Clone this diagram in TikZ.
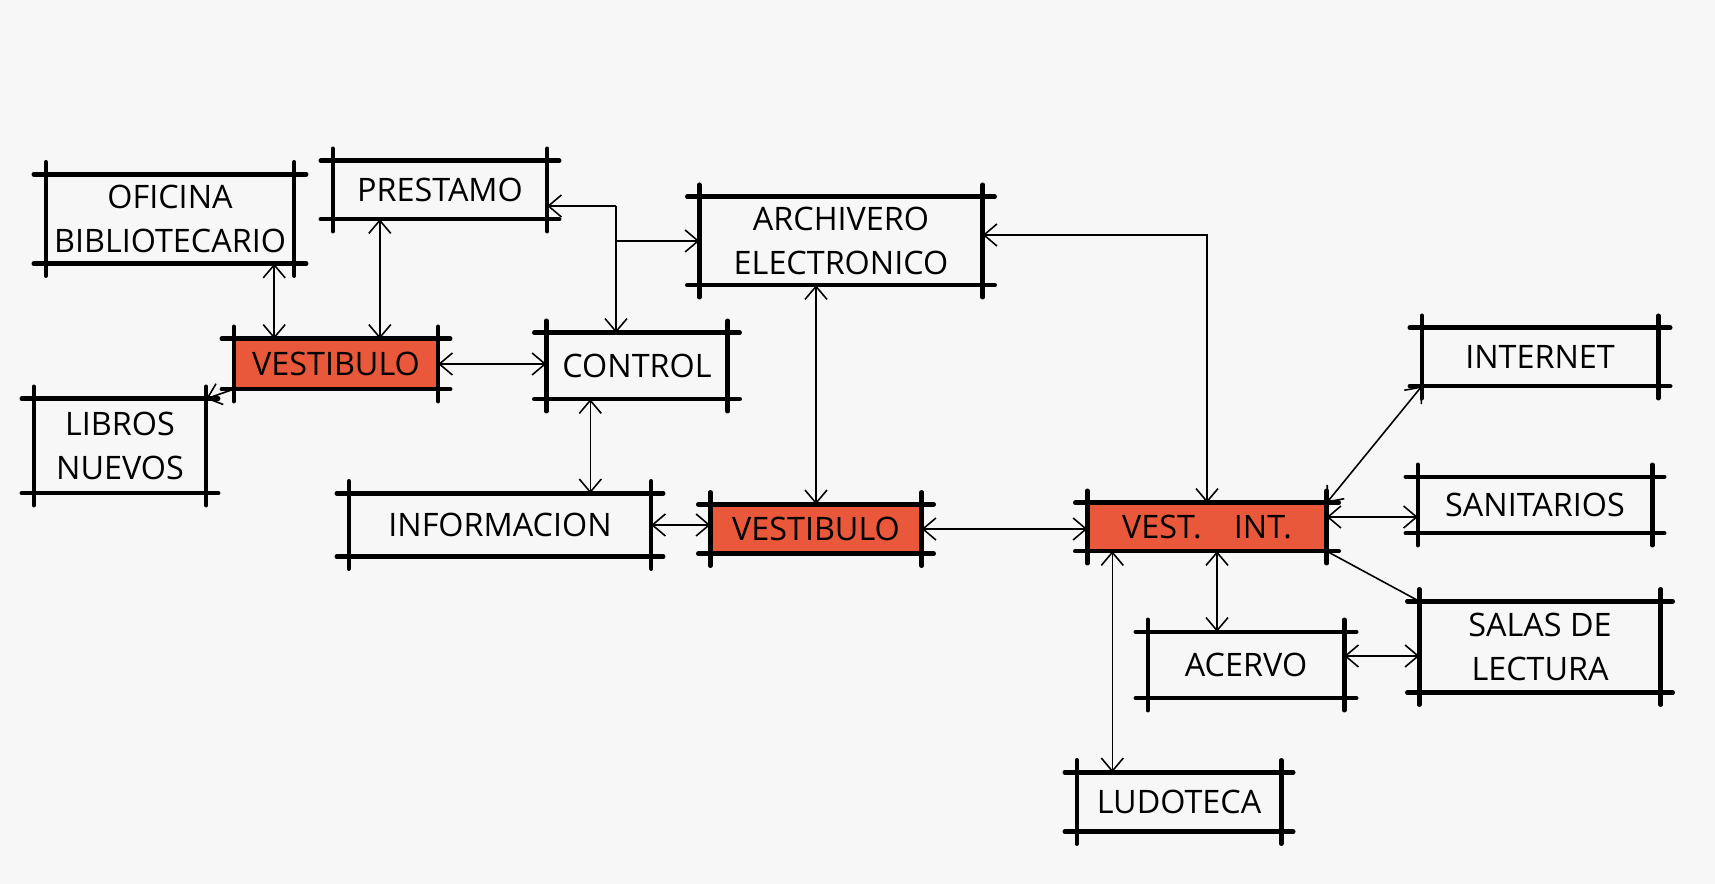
\documentclass[tikz,border=0pt]{standalone}
\usepackage{fontspec}
\setmainfont{Open Sans}
\usepackage{tikz}
\usetikzlibrary{arrows.meta, calc}

\definecolor{paper}{RGB}{247,247,247}
\definecolor{marker}{RGB}{233,88,58}

\tikzset{
    room/.style={inner sep=0pt, align=center, font=\fontsize{9.2}{12.5}\selectfont},
    hall/.style={room, fill=marker},
    frame/.style={line width=1.3pt, line cap=round},
    link/.style={line width=0.45pt, >={Straight Barb[length=1.3mm, width=2.2mm]}}
}

\begin{document}
\begin{tikzpicture}
    % Paper (1 px of the sketch = 0.01 cm)
    \fill[paper] (0,0) rectangle (17.15, 8.84);
    \useasboundingbox (0,0) rectangle (17.15, 8.84);

    % Rooms
    \node[room, minimum width=2.47cm, minimum height=0.88cm] (ofi) at (1.70, 6.65) {OFICINA\\BIBLIOTECARIO};
    \node[room, minimum width=2.13cm, minimum height=0.57cm] (pre) at (4.40, 6.94) {PRESTAMO};
    \node[room, minimum width=2.82cm, minimum height=0.87cm] (arch) at (8.41, 6.43) {ARCHIVERO\\ELECTRONICO};
    \node[hall, minimum width=2.03cm, minimum height=0.49cm] (vestL) at (3.36, 5.20) {VESTIBULO};
    \node[room, minimum width=1.80cm, minimum height=0.65cm] (control) at (6.37, 5.18) {CONTROL};
    \node[room, minimum width=1.71cm, minimum height=0.93cm] (libros) at (1.20, 4.38) {LIBROS\\NUEVOS};
    \node[room, minimum width=3.01cm, minimum height=0.62cm] (info) at (5.00, 3.59) {INFORMACION};
    \node[hall, minimum width=2.10cm, minimum height=0.48cm] (vestC) at (8.16, 3.55) {VESTIBULO};
    \node[hall, minimum width=2.38cm, minimum height=0.47cm] (vestInt) at (12.07, 3.57) {VEST.\quad INT.};
    \node[room, minimum width=2.35cm, minimum height=0.57cm] (internet) at (15.40, 5.27) {INTERNET};
    \node[room, minimum width=2.33cm, minimum height=0.55cm] (sanit) at (15.35, 3.79) {SANITARIOS};
    \node[room, minimum width=2.40cm, minimum height=0.90cm] (salas) at (15.40, 2.37) {SALAS DE\\LECTURA};
    \node[room, minimum width=1.95cm, minimum height=0.65cm] (acervo) at (12.46, 2.19) {ACERVO};
    \node[room, minimum width=2.03cm, minimum height=0.58cm] (ludo) at (11.79, 0.82) {LUDOTECA};

    % Sketch frames with crossing corners
    \foreach \n in {ofi, pre, arch, vestL, control, libros, info, vestC, vestInt, internet, sanit, salas, acervo, ludo} {
        \draw[frame] ([xshift=-0.12cm]\n.north west) -- ([xshift=0.12cm]\n.north east);
        \draw[frame] ([xshift=-0.12cm]\n.south west) -- ([xshift=0.12cm]\n.south east);
        \draw[frame] ([yshift=0.12cm]\n.north west) -- ([yshift=-0.12cm]\n.south west);
        \draw[frame] ([yshift=0.12cm]\n.north east) -- ([yshift=-0.12cm]\n.south east);
    }

    % Left vestibule
    \draw[link, <->] ([xshift=-0.20cm]ofi.south east) -- ([xshift=-0.20cm]ofi.south east |- vestL.north);
    \draw[link, <->] ([xshift=0.47cm]pre.south west) -- ([xshift=0.47cm]pre.south west |- vestL.north);
    \draw[link, ->] (vestL.south west) -- (libros.north east);
    \draw[link, <->] (vestL.east) -- (vestL.east -| control.west);

    % Control branch
    \coordinate (jct) at (6.16, 6.78);
    \draw[link, ->] (jct) -- (jct -| pre.east);
    \draw[link, ->] (jct) -- (jct |- control.north);
    \draw[link, ->] (jct |- arch.west) -- (arch.west);
    \draw[link, <->] ([xshift=0.44cm]control.south west) -- ([xshift=0.44cm]control.south west |- info.north);

    % Central vestibule
    \draw[link, <->] (info.east) -- (info.east -| vestC.west);
    \draw[link, <->] (vestC.north) -- (vestC.north |- arch.south);
    \draw[link, <->] (vestC.east) -- (vestC.east -| vestInt.west);

    % Inner vestibule
    \draw[link, <->] ([yshift=0.06cm]arch.east) -| (vestInt.north);
    \draw[link, <->] (vestInt.north east) -- (internet.south west);
    \draw[link, <->] ([yshift=0.10cm]vestInt.east) -- ([yshift=0.10cm]vestInt.east -| sanit.west);
    \draw[link] (vestInt.south east) -- (salas.north west);
    \draw[link, <->] ([xshift=0.10cm]vestInt.south) -- ([xshift=0.10cm]vestInt.south |- acervo.north);
    \draw[link, <->] ([yshift=0.09cm]acervo.east) -- ([yshift=0.09cm]acervo.east -| salas.west);
    \draw[link, <->] ([xshift=0.25cm]vestInt.south west) -- ([xshift=0.25cm]vestInt.south west |- ludo.north);

\end{tikzpicture}
\end{document}
